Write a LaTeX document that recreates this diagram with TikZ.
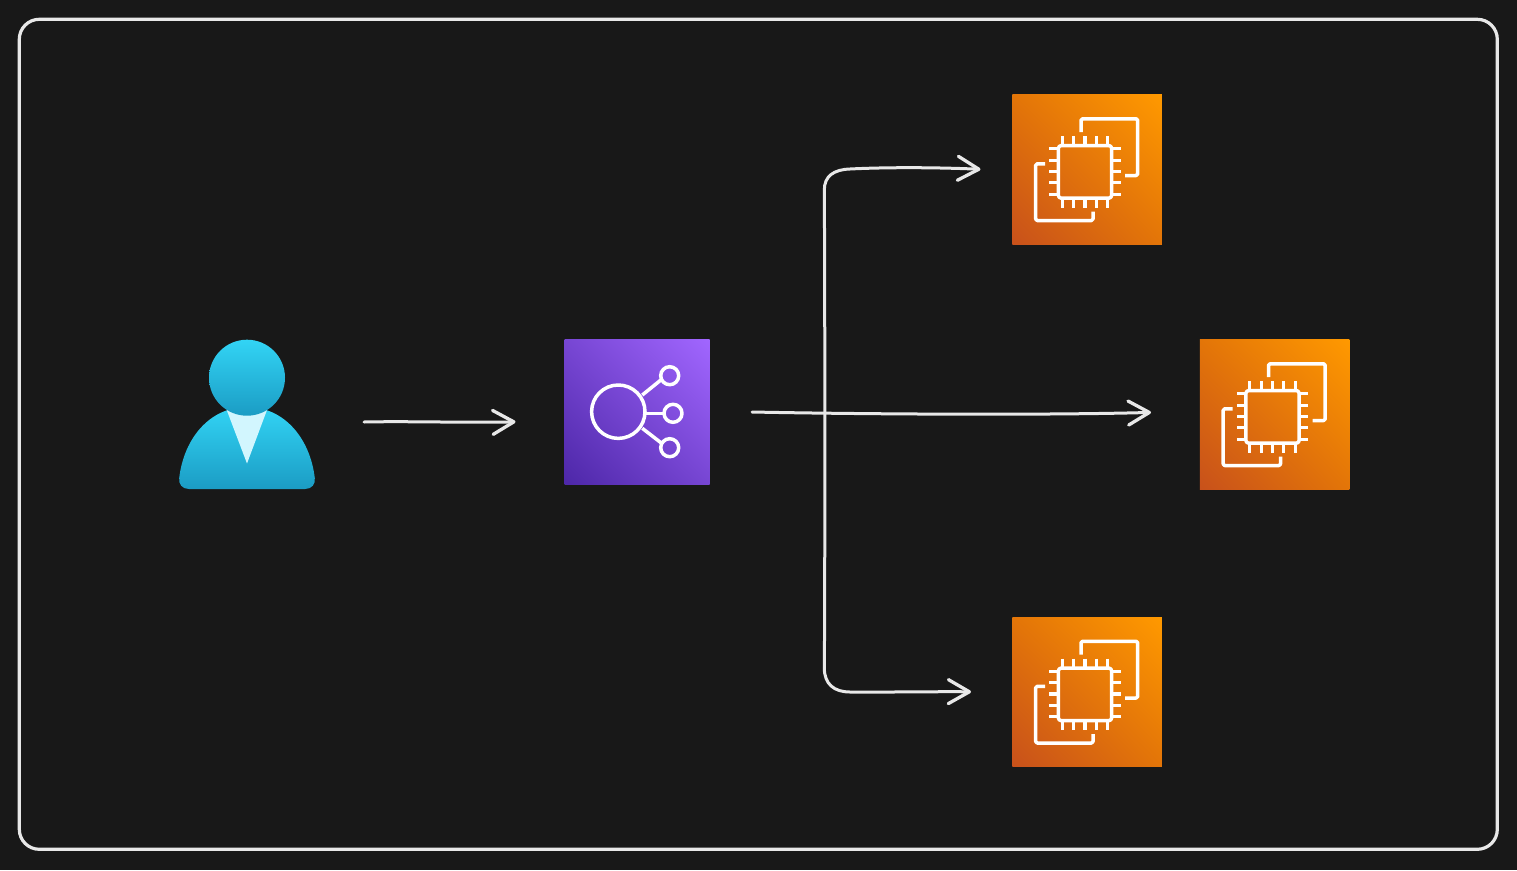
\documentclass[tikz,border=0pt]{standalone}
\usetikzlibrary{arrows.meta,shadings}
\definecolor{bgdark}{HTML}{181818}
\definecolor{strokepale}{HTML}{E8E8E8}
\definecolor{ecdark}{HTML}{C8511B}
\definecolor{ecmid}{HTML}{E37508}
\definecolor{eclight}{HTML}{FF9900}
\definecolor{elbdark}{HTML}{4D27A8}
\definecolor{elbmid}{HTML}{7746D3}
\definecolor{elblight}{HTML}{A166FF}
\definecolor{usertop}{HTML}{32D4F5}
\definecolor{userbot}{HTML}{1B9CC4}
\definecolor{usertie}{HTML}{D2F6FE}
\tikzset{
  flow/.style={draw=strokepale,line width=3pt,line cap=round,line join=round,
    -{Straight Barb[length=21pt,width=24pt,round,line width=3.3pt]}},
  frameline/.style={draw=strokepale,line width=3.2pt},
  glyph/.style={draw=white,line width=3.5pt,line join=round},
  glyphthin/.style={draw=white,line width=3.2pt},
  ecbox/.style={rectangle,minimum size=149.5pt,inner sep=0pt,outer sep=0pt,shade,
    lower left=ecdark,upper right=eclight,upper left=ecmid,lower right=ecmid},
  elbbox/.style={rectangle,minimum size=145pt,inner sep=0pt,outer sep=0pt,shade,
    lower left=elbdark,upper right=elblight,upper left=elbmid,lower right=elbmid},
  ecglyph/.pic={
    \draw[glyph,rounded corners=1.5pt] (69,37.7) -- (69,24.3) -- (125.7,24.3) -- (125.7,81) -- (113,81);
    \draw[glyph,rounded corners=1.5pt] (33,69.3) -- (23.7,69.3) -- (23.7,126) -- (81,126) -- (81,117);
    \draw[glyph,rounded corners=3pt] (46.3,51) rectangle (99.7,103.7);
    \foreach \k in {50.3,61.7,73,84.3,95.7}{
      \draw[glyphthin] (\k,41.7) -- (\k,51);
      \draw[glyphthin] (\k,103.7) -- (\k,113);
    }
    \foreach \k in {54.3,65.7,77,88.3,99.7}{
      \draw[glyphthin] (37.3,\k) -- (46.3,\k);
      \draw[glyphthin] (99.7,\k) -- (108.7,\k);
    }
  }
}
\begin{document}
\begin{tikzpicture}[x=1pt,y=-1pt]
\useasboundingbox (0,0) rectangle (1517,870);
\fill[bgdark] (0,0) rectangle (1517,870);
% outer frame
\path[frameline,rounded corners=20pt] (19.3,19.3) rectangle (1497.3,849.3);
% user figure
\shade[top color=usertop,bottom color=userbot]
  (189,489) .. controls (182,489) and (178.5,484) .. (179.2,478)
  .. controls (184,438) and (210,407) .. (247,407)
  .. controls (284,407) and (310,438) .. (314.8,478)
  .. controls (315.5,484) and (312,489) .. (305,489) -- cycle;
\fill[usertie] (226.7,410) -- (267,410) -- (247,463.5) -- cycle;
\shade[top color=usertop,bottom color=userbot,shading angle=0]
  (247,377.7) circle[radius=38pt];
% load balancer
\node[elbbox] (elb) at (637,412) {};
\draw[glyph] (618.3,411.7) circle[radius=26.7pt];
\draw[glyph] (669.7,375.7) circle[radius=9pt];
\draw[glyph] (673,413.3) circle[radius=9pt];
\draw[glyph] (669.7,447.7) circle[radius=9pt];
\draw[glyph] (642.3,395) -- (661.7,379.3);
\draw[glyph] (645.7,413.3) -- (663.7,413.3);
\draw[glyph] (642.3,428.3) -- (661.7,443.3);
% instances
\node[ecbox] (eca) at (1087,169.5) {};
\node[ecbox] (ecb) at (1274.5,414.3) {};
\node[ecbox] (ecc) at (1087,692) {};
\pic at (1012,94.5) {ecglyph};
\pic at (1199.5,339.5) {ecglyph};
\pic at (1012,617) {ecglyph};
% connector ends
\coordinate (userout) at (364,422);
\coordinate (elbin) at (515.5,421.8);
\coordinate (elbout) at (752,412);
\coordinate (ecain) at (980.5,169.3);
\coordinate (ecbin) at (1151,412.4);
\coordinate (eccin) at (971,691.8);
\coordinate (trunktop) at (824.3,190);
\coordinate (trunkbot) at (824.3,668);
% connectors
\draw[flow] (userout) .. controls (410,421) and (470,423) .. (elbin);
\draw[flow] (elbout) .. controls (850,414) and (1040,415.5) .. (ecbin);
\draw[flow] (trunkbot) .. controls (825,600) and (825,300) .. (trunktop)
  .. controls (824.3,176) and (834,169.5) .. (850,169)
  .. controls (890,167) and (940,167.5) .. (ecain);
\draw[flow] (trunkbot) .. controls (824.3,684) and (834,692) .. (850,692)
  .. controls (890,692.3) and (930,691.5) .. (eccin);
\end{tikzpicture}
\end{document}
